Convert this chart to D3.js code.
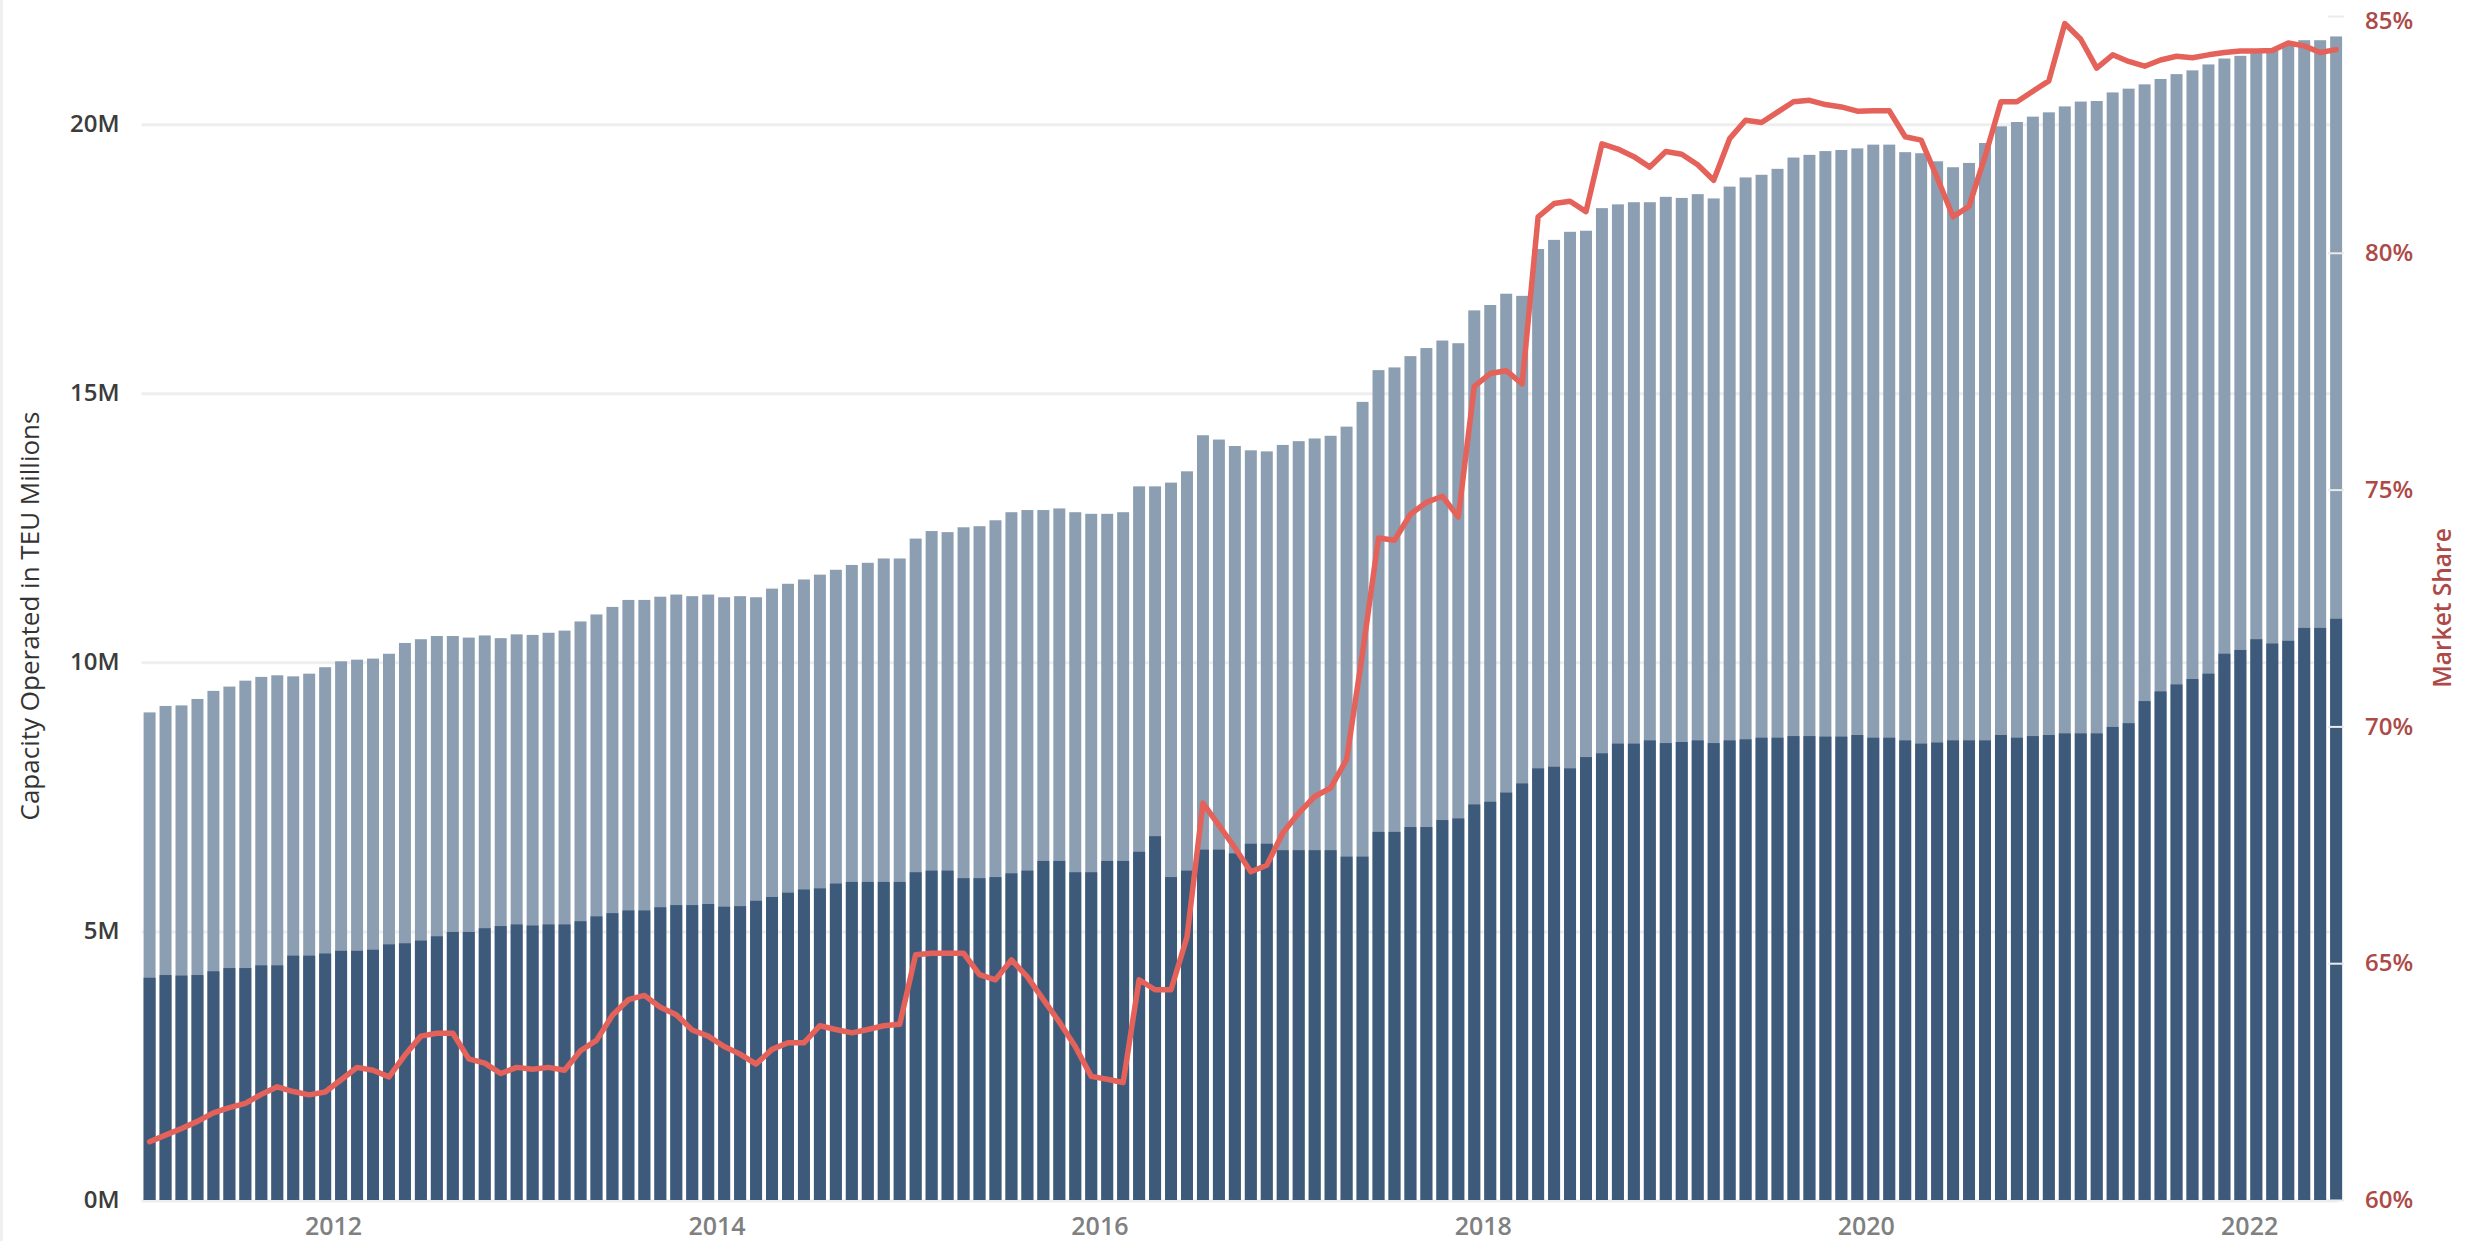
<!DOCTYPE html>
<html><head><meta charset="utf-8">
<script src="https://cdn.jsdelivr.net/npm/d3@7"></script>
<style>
html,body{margin:0;padding:0;background:#fff;}
svg{display:block;font-family:"Open Sans",sans-serif;}
</style>
</head><body>
<svg id="chart" width="2466" height="1241"></svg>
<script>
// ---------- data ----------
const months = (
 "2011-01 2011-02 2011-03 2011-04 2011-05 2011-06 2011-07 2011-08 2011-09 2011-10 2011-11 2011-12 " +
 "2012-01 2012-02 2012-03 2012-04 2012-05 2012-06 2012-07 2012-08 2012-09 2012-10 2012-11 2012-12 " +
 "2013-01 2013-02 2013-03 2013-04 2013-05 2013-06 2013-07 2013-08 2013-09 2013-10 2013-11 2013-12 " +
 "2014-01 2014-02 2014-03 2014-04 2014-05 2014-06 2014-07 2014-08 2014-09 2014-10 2014-11 2014-12 " +
 "2015-01 2015-02 2015-03 2015-04 2015-05 2015-06 2015-07 2015-08 2015-09 2015-10 2015-11 2015-12 " +
 "2016-01 2016-02 2016-03 2016-04 2016-05 2016-06 2016-07 2016-08 2016-09 2016-10 2016-11 2016-12 " +
 "2017-01 2017-02 2017-03 2017-04 2017-05 2017-06 2017-07 2017-08 2017-09 2017-10 2017-11 2017-12 " +
 "2018-01 2018-02 2018-03 2018-04 2018-05 2018-06 2018-07 2018-08 2018-09 2018-10 2018-11 2018-12 " +
 "2019-01 2019-02 2019-03 2019-04 2019-05 2019-06 2019-07 2019-08 2019-09 2019-10 2019-11 2019-12 " +
 "2020-01 2020-02 2020-03 2020-04 2020-05 2020-06 2020-07 2020-08 2020-09 2020-10 2020-11 2020-12 " +
 "2021-01 2021-02 2021-03 2021-04 2021-05 2021-06 2021-07 2021-08 2021-09 2021-10 2021-11 2021-12 " +
 "2022-01 2022-02 2022-03 2022-04 2022-05 2022-06").split(" ");

const yearTickLabels = ["2012", "2014", "2016", "2018", "2020", "2022"];
const capacityTicks = [0, 5, 10, 15, 20];
const shareTicks = [60, 65, 70, 75, 80, 85];

// total capacity operated (top of light bars), TEU millions
const totalCapacity = [
 9.06, 9.18, 9.19, 9.31, 9.46, 9.54, 9.65, 9.72, 9.75, 9.73, 9.78, 9.90,
 10.01, 10.04, 10.06, 10.15, 10.35, 10.42, 10.48, 10.48, 10.45, 10.49, 10.44, 10.51,
 10.50, 10.54, 10.58, 10.75, 10.88, 11.02, 11.15, 11.15, 11.21, 11.25, 11.22, 11.25,
 11.20, 11.22, 11.20, 11.36, 11.45, 11.53, 11.62, 11.71, 11.80, 11.84, 11.92, 11.92,
 12.29, 12.43, 12.41, 12.50, 12.52, 12.63, 12.78, 12.82, 12.82, 12.85, 12.78, 12.75,
 12.75, 12.78, 13.26, 13.26, 13.33, 13.54, 14.21, 14.13, 14.01, 13.93, 13.91, 14.03,
 14.10, 14.15, 14.20, 14.37, 14.83, 15.42, 15.47, 15.68, 15.83, 15.97, 15.92, 16.53,
 16.63, 16.84, 16.80, 17.67, 17.84, 17.99, 18.01, 18.43, 18.50, 18.54, 18.54, 18.64,
 18.62, 18.69, 18.61, 18.83, 19.00, 19.05, 19.16, 19.37, 19.42, 19.49, 19.51, 19.54,
 19.61, 19.61, 19.47, 19.45, 19.30, 19.19, 19.27, 19.64, 19.95, 20.03, 20.13, 20.21,
 20.32, 20.41, 20.42, 20.58, 20.65, 20.73, 20.83, 20.92, 20.99, 21.10, 21.21, 21.26,
 21.31, 21.36, 21.46, 21.55, 21.55, 21.62
];

// dark (lower) segment, TEU millions
const darkCapacity = [
 4.13, 4.18, 4.17, 4.18, 4.25, 4.31, 4.31, 4.36, 4.36, 4.54, 4.54, 4.58,
 4.63, 4.63, 4.65, 4.75, 4.77, 4.82, 4.90, 4.98, 4.98, 5.05, 5.09, 5.12,
 5.10, 5.12, 5.12, 5.18, 5.27, 5.33, 5.38, 5.38, 5.44, 5.48, 5.48, 5.50,
 5.45, 5.46, 5.56, 5.63, 5.71, 5.77, 5.79, 5.88, 5.91, 5.91, 5.91, 5.91,
 6.09, 6.12, 6.12, 5.98, 5.98, 6.00, 6.07, 6.12, 6.30, 6.30, 6.09, 6.09,
 6.30, 6.30, 6.47, 6.76, 6.00, 6.12, 6.51, 6.51, 6.44, 6.62, 6.62, 6.50,
 6.50, 6.50, 6.50, 6.38, 6.38, 6.84, 6.84, 6.93, 6.93, 7.06, 7.09, 7.35,
 7.40, 7.57, 7.74, 8.02, 8.05, 8.02, 8.23, 8.30, 8.48, 8.48, 8.54, 8.49,
 8.51, 8.54, 8.49, 8.54, 8.56, 8.59, 8.59, 8.62, 8.62, 8.61, 8.61, 8.64,
 8.59, 8.59, 8.54, 8.48, 8.50, 8.54, 8.54, 8.54, 8.64, 8.59, 8.62, 8.64,
 8.67, 8.67, 8.67, 8.79, 8.86, 9.27, 9.45, 9.58, 9.68, 9.78, 10.15, 10.22,
 10.42, 10.34, 10.39, 10.63, 10.63, 10.80
];

// market share, %
const marketShare = [
 61.23, 61.37, 61.51, 61.66, 61.84, 61.95, 62.04, 62.23, 62.39, 62.29, 62.22, 62.28,
 62.54, 62.80, 62.74, 62.60, 63.06, 63.46, 63.52, 63.52, 62.98, 62.89, 62.67, 62.80,
 62.76, 62.80, 62.74, 63.15, 63.37, 63.90, 64.23, 64.32, 64.07, 63.91, 63.59, 63.46,
 63.24, 63.08, 62.87, 63.18, 63.32, 63.32, 63.68, 63.60, 63.53, 63.60, 63.68, 63.71,
 65.18, 65.21, 65.21, 65.21, 64.76, 64.65, 65.07, 64.71, 64.23, 63.76, 63.24, 62.61,
 62.55, 62.48, 64.65, 64.44, 64.44, 65.55, 68.38, 67.91, 67.44, 66.93, 67.07, 67.75,
 68.17, 68.52, 68.70, 69.30, 71.55, 73.98, 73.93, 74.48, 74.73, 74.86, 74.42, 77.18,
 77.45, 77.51, 77.23, 80.76, 81.04, 81.09, 80.87, 82.30, 82.19, 82.03, 81.81, 82.14,
 82.08, 81.86, 81.53, 82.41, 82.80, 82.75, 82.97, 83.19, 83.22, 83.13, 83.08, 82.99,
 83.00, 83.00, 82.45, 82.38, 81.59, 80.76, 80.98, 82.03, 83.19, 83.19, 83.41, 83.63,
 84.84, 84.51, 83.90, 84.18, 84.04, 83.94, 84.07, 84.15, 84.12, 84.18, 84.23, 84.26,
 84.26, 84.27, 84.43, 84.37, 84.23, 84.29
];

// ---------- layout ----------
const W = 2466, H = 1241;
const x0 = 141.6, x1 = 2344.1, yTop = 16, yBottom = 1200;
const svg = d3.select("#chart");

const x = d3.scaleBand().domain(months).range([x0, x1]).paddingInner(0.25).paddingOuter(0.125);
const xTime = d3.scaleTime().domain([new Date(2011, 0, 1), new Date(2022, 6, 1)]).range([x0, x1]);
const yL = d3.scaleLinear().domain([0, 22]).range([yBottom, yTop]);
const yR = d3.scaleLinear().domain([60, 85]).range([yBottom, yTop]);

const rows = months.map((m, i) => ({ m, total: totalCapacity[i], dark: darkCapacity[i], share: marketShare[i] }));

// faint page border on the left
svg.append("rect").attr("x", 0).attr("y", 0).attr("width", 3).attr("height", H).attr("fill", "#f0f0f0");

// gridlines
svg.append("g").selectAll("line").data(capacityTicks).join("line")
  .attr("x1", x0).attr("x2", x1 - 6)
  .attr("y1", d => yL(d) + 1).attr("y2", d => yL(d) + 1)
  .attr("stroke", "#eeeeee").attr("stroke-width", 3);

// bars
const bars = svg.append("g");
bars.selectAll("rect.total").data(rows).join("rect").attr("class", "total")
  .attr("x", d => x(d.m)).attr("width", x.bandwidth())
  .attr("y", d => yL(d.total)).attr("height", d => yL(0) - yL(d.total))
  .attr("fill", "#8c9eb1");
bars.selectAll("rect.dark").data(rows).join("rect").attr("class", "dark")
  .attr("x", d => x(d.m)).attr("width", x.bandwidth())
  .attr("y", d => yL(d.dark)).attr("height", d => yL(0) - yL(d.dark))
  .attr("fill", "#3e5a7a");

// market share line
const line = d3.line().x(d => x(d.m) + x.bandwidth() / 2).y(d => yR(d.share));
svg.append("path").datum(rows).attr("d", line)
  .attr("fill", "none").attr("stroke", "#e5625a").attr("stroke-width", 5.5)
  .attr("stroke-linejoin", "round").attr("stroke-linecap", "round");

// left axis
const gL = svg.append("g").attr("transform", `translate(${x0},0)`)
  .call(d3.axisLeft(yL).tickValues(capacityTicks).tickFormat(d => d + "M").tickSize(0).tickPadding(22));
gL.select(".domain").remove();
gL.selectAll("text").attr("font-size", 24).attr("font-weight", 600).attr("fill", "#3c3c3c")
  .attr("font-family", "'Open Sans', sans-serif");

// right axis
const gR = svg.append("g").attr("transform", `translate(${x1},0)`)
  .call(d3.axisRight(yR).tickValues(shareTicks).tickFormat(d => d + "%").tickSizeInner(-16).tickSizeOuter(0).tickPadding(21));
gR.select(".domain").remove();
gR.selectAll(".tick line").attr("stroke", "#ebebeb").attr("stroke-width", 2);
gR.selectAll("text").attr("font-size", 24).attr("font-weight", 600).attr("fill", "#ad4a48")
  .attr("font-family", "'Open Sans', sans-serif")
  .attr("dy", d => d === 85 ? "0.5em" : "0.32em");

// bottom axis
const gB = svg.append("g").attr("transform", `translate(0,${yBottom})`)
  .call(d3.axisBottom(xTime).tickValues(yearTickLabels.map(y => new Date(+y, 0, 1)))
    .tickFormat(d3.timeFormat("%Y")).tickSize(0).tickPadding(17));
gB.select(".domain").remove();
gB.selectAll("text").attr("font-size", 25).attr("font-weight", 600).attr("fill", "#808080")
  .attr("font-family", "'Open Sans', sans-serif");

// axis titles
svg.append("text").attr("transform", `translate(29,${(yTop + yBottom) / 2 + 8}) rotate(-90)`)
  .attr("text-anchor", "middle").attr("dominant-baseline", "central")
  .attr("font-size", 26).attr("fill", "#333").text("Capacity Operated in TEU Millions");
svg.append("text").attr("transform", `translate(2441,${(yTop + yBottom) / 2}) rotate(-90)`)
  .attr("text-anchor", "middle").attr("dominant-baseline", "central")
  .attr("font-size", 24.5).attr("font-weight", 600).attr("fill", "#ad4a48").text("Market Share");
</script>
</body></html>
